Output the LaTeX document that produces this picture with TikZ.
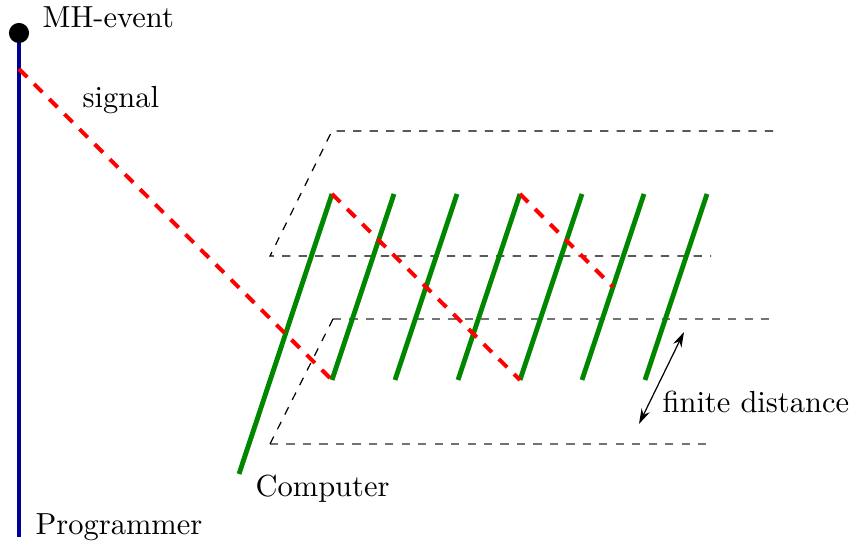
\documentclass[tikz,border=0pt]{standalone}
\usetikzlibrary{arrows.meta}
\definecolor{progblue}{rgb}{0,0,0.6}
\definecolor{compgreen}{rgb}{0,0.53,0}
\tikzset{
  worldline/.style={line width=1.6pt, progblue},
  compline/.style={line width=1.6pt, compgreen},
  signalline/.style={line width=1.3pt, red, dash pattern=on 3.8pt off 3.2pt},
  sheetblack/.style={line width=0.4pt, black, dash pattern=on 2.7pt off 2.7pt},
  sheetgray/.style={line width=0.6pt, black!55, dash pattern=on 2.7pt off 2.7pt},
  lbl/.style={inner sep=0pt, anchor=base west},
}
\begin{document}
\begin{tikzpicture}[x=0.328pt, y=-0.328pt]
\useasboundingbox (0,0) rectangle (854,542);
% sheets
\coordinate (t1) at (332,131); \coordinate (t2) at (773,131);
\coordinate (t3) at (270,256); \coordinate (t4) at (711,256);
\coordinate (b1) at (333,319); \coordinate (b2) at (773,319);
\coordinate (b3) at (270,444); \coordinate (b4) at (710,444);
\draw[sheetblack] (t2) -- (t1) -- (t3) -- (t4);
\draw[sheetgray] (b1) -- (b2);
\draw[sheetgray] (b3) -- (b4);
\draw[sheetblack] (b1) -- (b3);
% programmer
\coordinate (p0) at (19,33);
\coordinate (p1) at (19,537);
\coordinate (ps) at (19,69);
\draw[worldline] (p0) -- (p1);
\fill (p0) circle (3.3pt);
% computer lines
\coordinate (cl0) at (239,474);
\foreach \i/\x in {0/332,1/394,2/457,3/520,4/582,5/644,6/707}{
  \coordinate (ct\i) at (\x,194);
  \coordinate (cb\i) at ({\x-62},380);
}
\draw[compline] (cl0) -- (ct0);
\foreach \i in {1,...,6}{\draw[compline] (cb\i) -- (ct\i);}
% signals
\coordinate (r1) at (613,287);
\draw[signalline] (ps) -- (cb1);
\draw[signalline] (ct0) -- (cb4);
\draw[signalline] (ct3) -- (r1);
% distance arrow
\coordinate (d1) at (684,332);
\coordinate (d2) at (639,424);
\draw[line width=0.4pt, {Stealth[length=5pt,width=3pt]}-{Stealth[length=5pt,width=3pt]}] (d2) -- (d1);
% labels
\node[lbl] (mh) at (42,28) {MH-event};
\node[lbl] (sig) at (82,108) {signal};
\node[lbl] (comp) at (255,497) {Computer};
\node[lbl] (prog) at (35,535) {Programmer};
\node[lbl] (fd) at (662,413) {finite distance};
\end{tikzpicture}
\end{document}
